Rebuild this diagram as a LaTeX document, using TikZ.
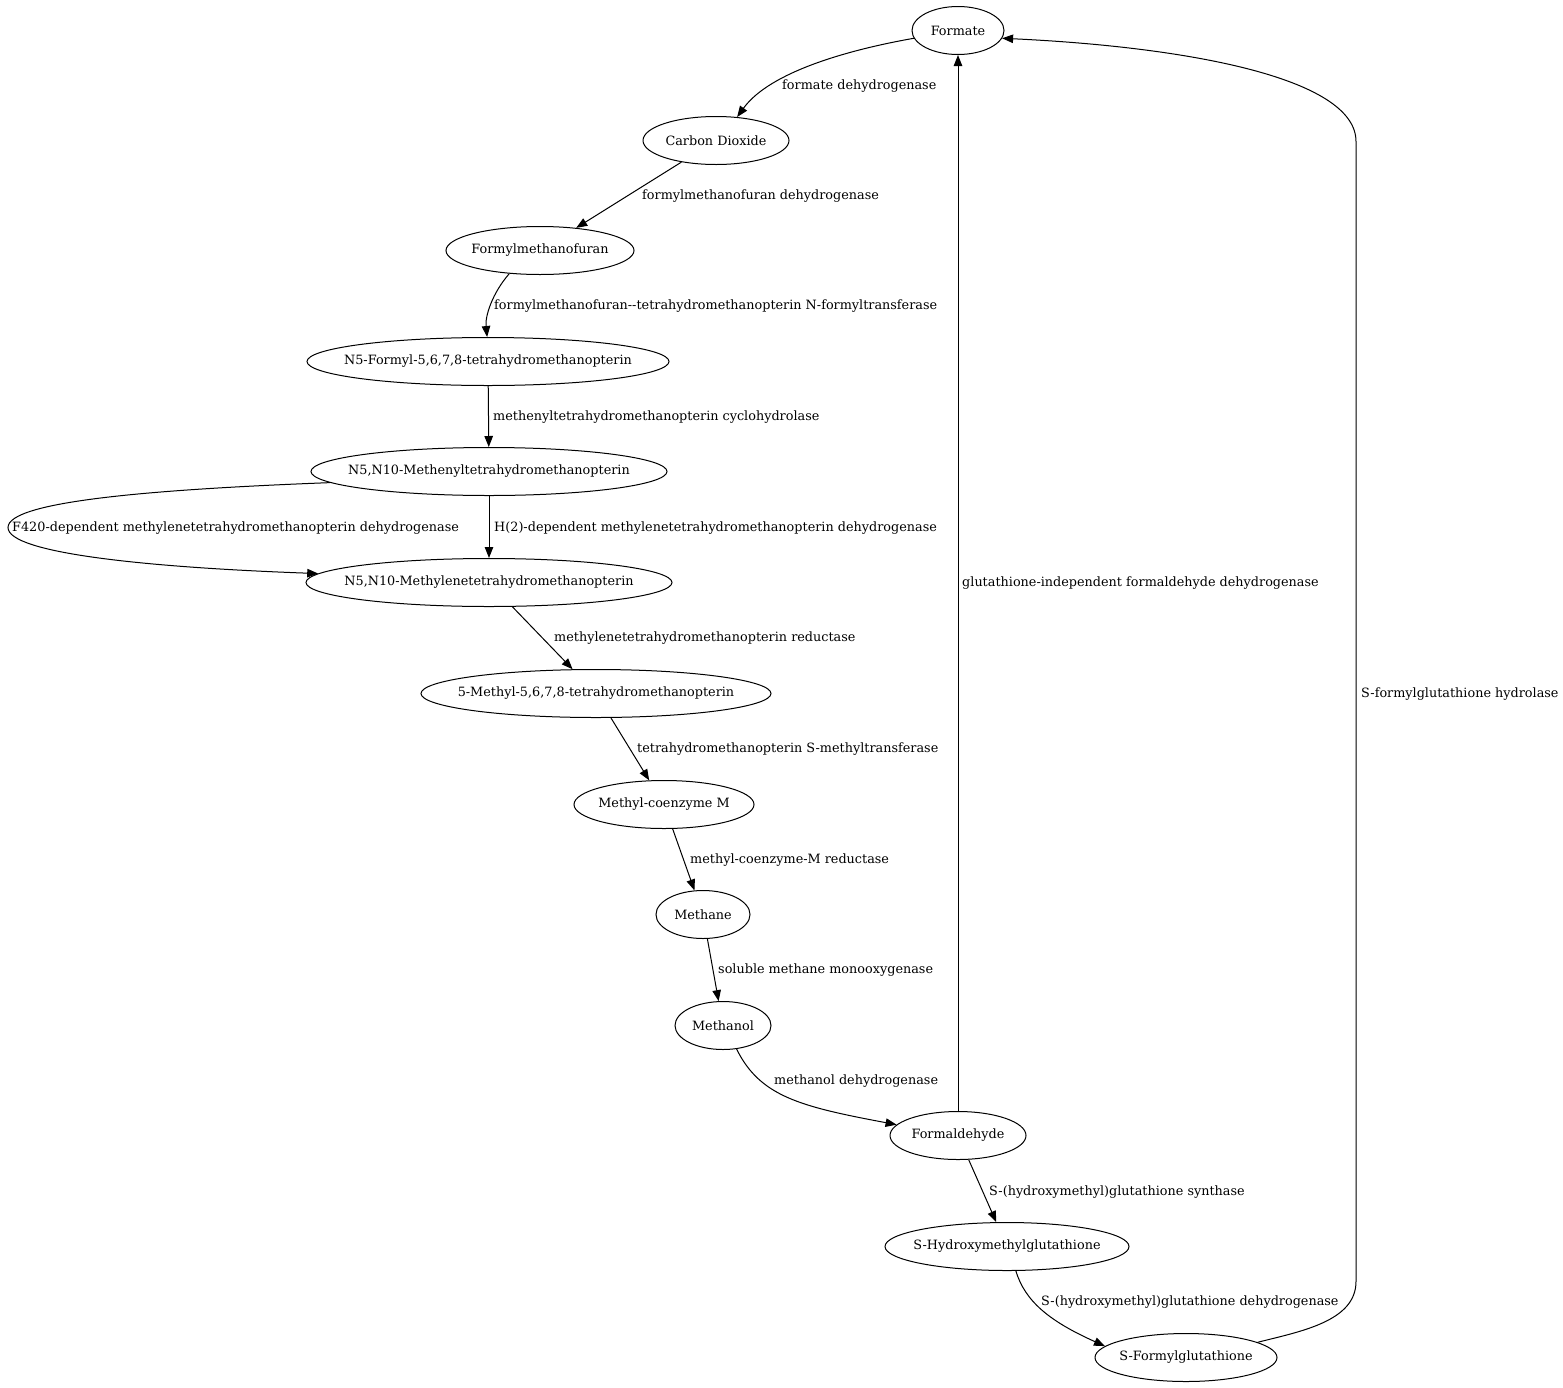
\documentclass[tikz,border=0pt]{standalone}
\usepackage{fontspec}
\setmainfont{DejaVu Serif}
\usetikzlibrary{shapes.geometric,arrows.meta}
\newcommand{\zt}[1]{\makebox[0pt]{#1}}
\begin{document}
\begin{tikzpicture}[x=1pt,y=-1pt,
  nd/.style={ellipse,draw,line width=1pt,inner sep=0pt,minimum height=48pt,font=\fontsize{12.8}{14}\selectfont},
  lbl/.style={anchor=west,inner sep=0pt,font=\fontsize{12.8}{14}\selectfont},
  edge/.style={line width=1pt,-{Triangle[length=11pt,width=8.5pt]}}]
\fill[white] (0,0) rectangle (1563,1387);
\useasboundingbox (0,0) rectangle (1563,1387);
\begin{scope}[yshift=-1.5pt]
% nodes
\node[nd,minimum width=92pt] (formate) at (958,29) {\zt{Formate}};
\node[nd,minimum width=146pt] (co2) at (716,139) {\zt{Carbon Dioxide}};
\node[nd,minimum width=188pt] (fmf) at (540,249) {\zt{Formylmethanofuran}};
\node[nd,minimum width=362pt] (n5f) at (488,360) {\zt{N5-Formyl-5,6,7,8-tetrahydromethanopterin}};
\node[nd,minimum width=356pt] (meny) at (489,470) {\zt{N5,N10-Methenyltetrahydromethanopterin}};
\node[nd,minimum width=366pt] (mene) at (489,581) {\zt{N5,N10-Methylenetetrahydromethanopterin}};
\node[nd,minimum width=350pt] (meth) at (596,692) {\zt{5-Methyl-5,6,7,8-tetrahydromethanopterin}};
\node[nd,minimum width=180pt] (mecom) at (664,803) {\zt{Methyl-coenzyme M}};
\node[nd,minimum width=94pt] (methane) at (703,913) {\zt{Methane}};
\node[nd,minimum width=96pt] (methanol) at (723,1024) {\zt{Methanol}};
\node[nd,minimum width=136pt] (form) at (958,1134) {\zt{Formaldehyde}};
\node[nd,minimum width=244pt] (shm) at (1007,1245) {\zt{S-Hydroxymethylglutathione}};
\node[nd,minimum width=182pt] (sfg) at (1186,1356) {\zt{S-Formylglutathione}};
% edges
\draw[edge] (formate.190) .. controls (850,48) and (770,70) .. (co2.48);
\draw[edge] (co2) -- (fmf);
\draw[edge] (fmf.217) .. controls (492,292) and (485,315) .. (n5f.92);
\draw[edge] (n5f) -- (meny);
\draw[edge] (meny) -- (mene);
\draw[edge] (meny.184) .. controls (150,488) and (8,500) .. (8,526) .. controls (8,552) and (150,566) .. (mene.177);
\draw[edge] (mene) -- (meth);
\draw[edge] (meth) -- (mecom);
\draw[edge] (mecom) -- (methane);
\draw[edge] (methane) -- (methanol);
\draw[edge] (methanol.300) .. controls (760,1095) and (800,1105) .. (form.170);
\draw[edge] (form) -- (formate);
\draw[edge] (form) -- (shm);
\draw[edge] (shm.290) .. controls (1025,1300) and (1050,1320) .. (sfg.172);
\draw[edge] (sfg.12) .. controls (1300,1330) and (1356,1320) .. (1356,1280) -- (1356,140) .. controls (1356,75) and (1180,45) .. (formate.-10);
% labels
\node[lbl] (l1) at (782,85) {formate dehydrogenase};
\node[lbl] (l2) at (642,195) {formylmethanofuran dehydrogenase};
\node[lbl] (l3) at (494,305) {formylmethanofuran-{}-tetrahydromethanopterin N-formyltransferase};
\node[lbl] (l4) at (493,416) {methenyltetrahydromethanopterin cyclohydrolase};
\node[lbl] (l5) at (12,527) {F420-dependent methylenetetrahydromethanopterin dehydrogenase};
\node[lbl] (l6) at (494,527) {H(2)-dependent methylenetetrahydromethanopterin dehydrogenase};
\node[lbl] (l7) at (554,637) {methylenetetrahydromethanopterin reductase};
\node[lbl] (l8) at (637,748) {tetrahydromethanopterin S-methyltransferase};
\node[lbl] (l9) at (690,859) {methyl-coenzyme-M reductase};
\node[lbl] (l10) at (718,969) {soluble methane monooxygenase};
\node[lbl] (l11) at (774,1080) {methanol dehydrogenase};
\node[lbl] (l12) at (962,582) {glutathione-independent formaldehyde dehydrogenase};
\node[lbl] (l13) at (989,1191) {S-(hydroxymethyl)glutathione synthase};
\node[lbl] (l14) at (1041,1301) {S-(hydroxymethyl)glutathione dehydrogenase};
\node[lbl] (l15) at (1361,693) {S-formylglutathione hydrolase};
\end{scope}
\end{tikzpicture}
\end{document}
